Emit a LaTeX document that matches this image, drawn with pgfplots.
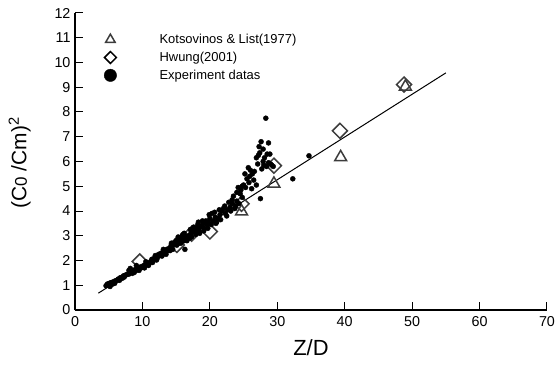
\documentclass[border=0pt]{standalone}
\usepackage{fontspec}
\setmainfont{Liberation Sans}
\usepackage{pgfplots}
\pgfplotsset{compat=1.18}
\definecolor{mk}{HTML}{3C3C3C}
\begin{document}
\begin{tikzpicture}
\useasboundingbox (-75bp,-57bp) rectangle (480bp,310bp);
\begin{axis}[
  scale only axis, width=472bp, height=297bp,
  xmin=0, xmax=70, ymin=0, ymax=12,
  axis x line*=bottom, axis y line*=left,
  axis line style={line width=1.1bp, -},
  xtick={0,10,...,70}, ytick={0,1,...,12},
  tick align=inside, major tick length=8bp,
  tick style={line width=1bp, black},
  /pgf/number format/assume math mode=true,
  tick label style={font=\fontsize{14.4}{16}\selectfont},
  xticklabel style={yshift=-3bp},
  yticklabel style={xshift=-1bp},
  xlabel={Z/D},
  xlabel style={font=\fontsize{22}{24}\selectfont, at={(axis description cs:0.5,0)}, anchor=north, yshift=-26bp},
  ylabel={(C{\fontsize{17}{20}\selectfont\raisebox{-0.5bp}{0}} /Cm)\textsuperscript{2}},
  ylabel style={font=\fontsize{21}{24}\selectfont, at={(axis description cs:-0.117,0.495)}, anchor=center, rotate=0},
  legend style={at={(axis description cs:0.0593,0.936)}, anchor=north west, draw=none, fill=none,
    font=\fontsize{13}{15}\selectfont, row sep=3bp, inner sep=0pt},
  legend cell align=left,
]
\addplot[only marks, mark=triangle, mark size=6.9bp, mark options={draw=mk, line width=1.5bp, fill=white},
  legend image code/.code={\draw[mark=triangle, mark size=5.5bp, draw=black, line width=1.5bp] plot coordinates {(0bp,0bp)}; \path (-7bp,-6bp) (47bp,6bp);}]
coordinates {(24.7,3.98) (29.5,5.1) (39.4,6.17) (49.0,9.02)};
\addlegendentry{Kotsovinos \& List(1977)}
\addplot[only marks, mark=square, mark size=5.3bp, mark options={rotate=45, draw=mk, line width=1.5bp, fill=white},
  legend image code/.code={\draw[mark=square, mark size=4.2bp, mark options={rotate=45}, draw=black, line width=1.5bp] plot coordinates {(0bp,0bp)}; \path (-7bp,-6bp) (47bp,6bp);}]
coordinates {(9.6,1.96) (15.1,2.63) (17.3,3.08) (20.0,3.17) (24.7,4.29) (29.5,5.83) (39.3,7.24) (48.8,9.11)};
\addlegendentry{Hwung(2001)}
\addplot[only marks, mark=*, mark size=2.5bp, black,
  legend image code/.code={\fill[black] (0bp,0bp) circle (6.2bp); \path (-7bp,-6bp) (47bp,6bp);}]
coordinates {
(4.6,0.98) (4.8,1.05) (5.0,1.02) (5.1,1.08) (5.3,1.1) (5.5,1.12) (5.6,1.05) (5.8,1.15) (6.0,1.18) (6.2,1.2)
(6.4,1.25) (6.5,1.22) (6.7,1.3) (6.9,1.32) (7.0,1.28) (7.2,1.38) (7.4,1.4) (7.6,1.42) (7.8,1.45) (8.0,1.6)
(8.1,1.5) (8.3,1.55) (8.5,1.48) (8.7,1.6) (8.9,1.58) (9.0,1.65) (9.2,1.62) (9.4,1.7) (9.6,1.68) (9.8,1.75)
(10.0,1.72) (10.2,1.8) (10.4,1.78) (10.6,1.85) (10.8,1.9) (11.0,1.88) (11.2,1.95) (11.4,2.05) (11.6,2.0) (11.8,2.1)
(12.0,2.15) (12.2,2.1) (12.4,2.25) (12.6,2.2) (12.8,2.3) (13.0,2.28) (13.2,2.35) (13.4,2.3) (13.6,2.45) (13.8,2.4)
(14.0,2.5) (14.2,2.55) (14.4,2.6) (14.6,2.7) (14.8,2.65) (15.0,2.8) (15.2,2.75) (15.4,2.7) (15.6,2.85) (15.8,2.9)
(16.0,3.05) (16.2,2.8) (16.3,2.45) (16.5,2.95) (16.8,3.0) (17.0,2.9) (17.2,3.1) (17.5,3.2) (17.8,3.15) (18.0,3.3)
(18.2,3.45) (18.4,3.2) (18.6,3.35) (18.8,3.4) (19.0,3.5) (19.2,3.3) (19.4,3.6) (19.6,3.45) (19.8,3.55) (20.0,3.7)
(20.3,3.9) (20.5,3.6) (20.8,3.75) (21.0,3.55) (21.2,3.7) (21.5,3.85) (21.8,4.0) (22.0,4.1) (22.3,3.9) (22.6,4.05)
(23.0,4.15) (23.3,4.3) (23.5,4.6) (23.8,4.2) (24.0,4.4) (24.2,4.95) (24.5,4.7) (24.8,5.0) (24.8,4.55) (25.0,5.05)
(25.2,5.5) (25.5,5.3) (25.7,5.75) (25.9,5.4) (26.0,5.65) (26.2,4.9) (26.5,5.25) (26.9,5.05) (26.9,6.15) (27.2,6.25)
(27.4,6.35) (27.5,4.5) (27.6,6.8) (27.7,5.7) (27.9,6.5) (27.9,6.0) (28.0,5.85) (28.3,7.75) (28.5,6.3) (28.7,6.75)
(28.7,5.95) (28.9,6.3) (29.2,5.85) (32.3,5.3) (34.7,6.23)
(5.2,0.95) (5.9,1.08) (6.6,1.2) (7.3,1.33) (8.0,1.45) (8.8,1.52) (9.5,1.6) (10.3,1.7) (10.9,1.8) (11.5,1.92)
(12.1,2.02) (12.9,2.18) (13.5,2.25) (14.1,2.4) (14.5,2.45) (15.1,2.62) (15.7,2.7) (16.6,2.8) (17.3,2.95) (17.9,3.05)
(18.5,3.1) (19.1,3.2) (19.7,3.3) (20.2,3.45) (20.9,3.5) (21.6,3.65) (22.5,3.8) (23.1,4.0) (23.7,4.1) (8.2,1.68)
(9.1,1.8) (10.5,1.95) (11.9,2.2) (13.1,2.45) (14.3,2.7) (15.3,2.95) (16.2,3.1) (17.6,3.35) (18.9,3.6) (19.9,3.85)
(20.7,3.95) (21.4,4.05) (22.2,4.2) (18.3,3.55) (17.1,3.25) (15.9,3.0) (24.3,4.3) (24.6,4.85) (25.3,4.95) (25.8,5.15)
(26.3,5.5) (26.6,5.6) (27.1,5.9) (27.3,6.6) (28.1,6.15) (28.4,5.8) (29.0,5.9) (29.4,5.8) (24.0,4.75) (23.3,4.45)
(22.8,4.35)
};
\addlegendentry{Experiment datas}
\addplot[black, line width=1bp, forget plot] coordinates {(3.46,0.68) (55,9.58)};
\end{axis}
\end{tikzpicture}
\end{document}
